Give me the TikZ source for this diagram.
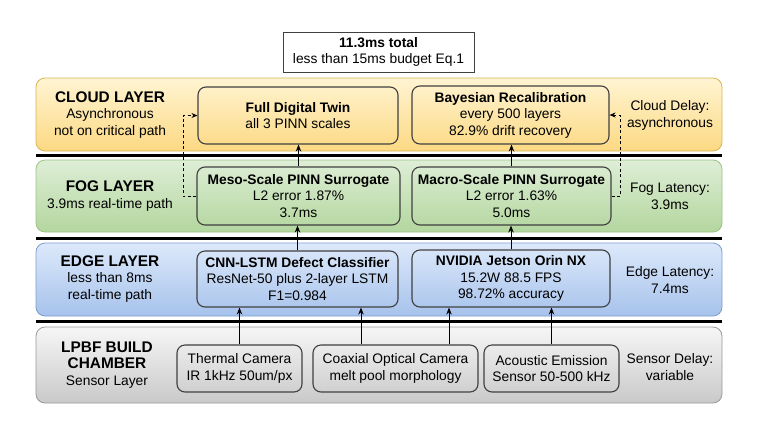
\documentclass[tikz,border=0pt]{standalone}
\usepackage{fontspec}
\setmainfont{Liberation Sans}
\usetikzlibrary{arrows.meta}
\definecolor{cloudtop}{HTML}{FFF4D2}
\definecolor{cloudbot}{HTML}{FCD983}
\definecolor{cloudline}{HTML}{D6B656}
\definecolor{fogtop}{HTML}{DEEED6}
\definecolor{fogbot}{HTML}{B3D69E}
\definecolor{fogline}{HTML}{9CC286}
\definecolor{edgetop}{HTML}{DDE9FB}
\definecolor{edgebot}{HTML}{A6C2EB}
\definecolor{edgeline}{HTML}{7E9ECC}
\definecolor{sentop}{HTML}{F6F6F6}
\definecolor{senbot}{HTML}{C9C9C9}
\definecolor{senline}{HTML}{999999}
\definecolor{boxline}{HTML}{404040}
\begin{document}
\begin{tikzpicture}[x=1pt,y=-1pt,
  txt/.style={font=\fontsize{13.8}{16.5}\selectfont, align=center, text=black, inner sep=0pt},
  band/.style={rectangle, rounded corners=9pt, line width=0.8pt, minimum width=686pt},
  compbox/.style={rectangle, rounded corners=8pt, draw=boxline, line width=1.1pt, txt},
  titlebox/.style={rectangle, draw=boxline, line width=1pt, fill=white, txt},
  sep/.style={line width=3pt, black},
  arr/.style={line width=1pt, black, -{Stealth[length=7pt,width=5.5pt]}},
  darr/.style={line width=0.9pt, black, dashed, dash pattern=on 3pt off 2.5pt, -{Stealth[length=6pt,width=5pt]}},
  ltitle/.style={font=\fontsize{15.4}{17.5}\selectfont\bfseries}
]
\useasboundingbox (0,0) rectangle (768,421);
\fill[white] (0,0) rectangle (768,421);

% layer bands
\node[band, minimum height=73pt, top color=cloudtop, bottom color=cloudbot, draw=cloudline] (cloud) at (379,114.5) {};
\node[band, minimum height=72pt, top color=fogtop, bottom color=fogbot, draw=fogline] (fog) at (379,196) {};
\node[band, minimum height=73pt, top color=edgetop, bottom color=edgebot, draw=edgeline] (edge) at (379,279.5) {};
\node[band, minimum height=76pt, top color=sentop, bottom color=senbot, draw=senline] (sensor) at (379,365) {};

% separators
\coordinate (s1l) at (36,155.5); \coordinate (s1r) at (722,155.5);
\coordinate (s2l) at (36,238); \coordinate (s2r) at (722,238);
\coordinate (s3l) at (36,321.5); \coordinate (s3r) at (722,321.5);
\draw[sep] (s1l) -- (s1r);
\draw[sep] (s2l) -- (s2r);
\draw[sep] (s3l) -- (s3r);

% total box
\node[titlebox, minimum width=191pt, minimum height=40pt] (total) at (378.5,52) {\textbf{11.3ms total}\\less than 15ms budget Eq.1};

% layer labels
\node[txt] (cloudlab) at (110,115) {{\fontsize{15.4}{17}\selectfont\textbf{CLOUD LAYER}}\\Asynchronous\\not on critical path};
\node[txt] (foglab) at (110,196) {{\fontsize{15.4}{17}\selectfont\textbf{FOG LAYER}}\\3.9ms real-time path};
\node[txt] (edgelab) at (110,279) {{\fontsize{15.4}{17}\selectfont\textbf{EDGE LAYER}}\\less than 8ms\\real-time path};
\node[txt] (senlab) at (107,365) {{\fontsize{15.4}{17.5}\selectfont\textbf{LPBF BUILD}}\\{\fontsize{15.4}{17.5}\selectfont\textbf{CHAMBER}}\\Sensor Layer};

\node[txt] (clouddelay) at (670,115.5) {Cloud Delay:\\asynchronous};
\node[txt] (foglat) at (670,196.5) {Fog Latency:\\3.9ms};
\node[txt] (edgelat) at (670,280) {Edge Latency:\\7.4ms};
\node[txt] (sendelay) at (670,367) {Sensor Delay:\\variable};

% component boxes
\node[compbox, minimum width=200pt, minimum height=57pt] (fdt) at (298,115.5) {\textbf{Full Digital Twin}\\all 3 PINN scales};
\node[compbox, minimum width=197pt, minimum height=58pt] (bayes) at (510.5,115) {\textbf{Bayesian Recalibration}\\every 500 layers\\82.9\% drift recovery};
\node[compbox, minimum width=203pt, minimum height=58pt] (meso) at (298.5,196) {\textbf{Meso-Scale PINN Surrogate}\\L2 error 1.87\%\\3.7ms};
\node[compbox, minimum width=199pt, minimum height=58pt] (macro) at (511.5,196) {\textbf{Macro-Scale PINN Surrogate}\\L2 error 1.63\%\\5.0ms};
\node[compbox, minimum width=201pt, minimum height=56pt] (cnn) at (297.5,279) {\textbf{CNN-LSTM Defect Classifier}\\ResNet-50 plus 2-layer LSTM\\F1=0.984};
\node[compbox, minimum width=198pt, minimum height=57pt] (nvidia) at (511,278.5) {\textbf{NVIDIA Jetson Orin NX}\\15.2W 88.5 FPS\\98.72\% accuracy};
\node[compbox, minimum width=125pt, minimum height=47pt] (therm) at (239.5,368.5) {Thermal Camera\\IR 1kHz 50um/px};
\node[compbox, minimum width=165pt, minimum height=47pt] (coax) at (395.5,368.5) {Coaxial Optical Camera\\melt pool morphology};
\node[compbox, minimum width=135pt, minimum height=47pt] (acou) at (551.5,368.5) {Acoustic Emission\\Sensor 50-500 kHz};

% arrows
\draw[arr] (therm.north) -- (therm.north |- cnn.south);
\draw[arr] ([xshift=-34.5pt]coax.north) -- ([xshift=-34.5pt]coax.north |- cnn.south);
\draw[arr] ([xshift=53.5pt]coax.north) -- ([xshift=53.5pt]coax.north |- nvidia.south);
\draw[arr] (acou.north) -- (acou.north |- nvidia.south);
\draw[arr] (cnn.north) -- (cnn.north |- meso.south);
\draw[arr] (nvidia.north) -- (nvidia.north |- macro.south);
\draw[arr] (meso.north) -- (meso.north |- fdt.south);
\draw[arr] (macro.north) -- (macro.north |- bayes.south);
\draw[darr] (meso.west) -- ++(-13.5,0) |- (fdt.west);
\draw[darr] (macro.east) -- ++(8.5,0) |- (bayes.east);
\end{tikzpicture}
\end{document}
